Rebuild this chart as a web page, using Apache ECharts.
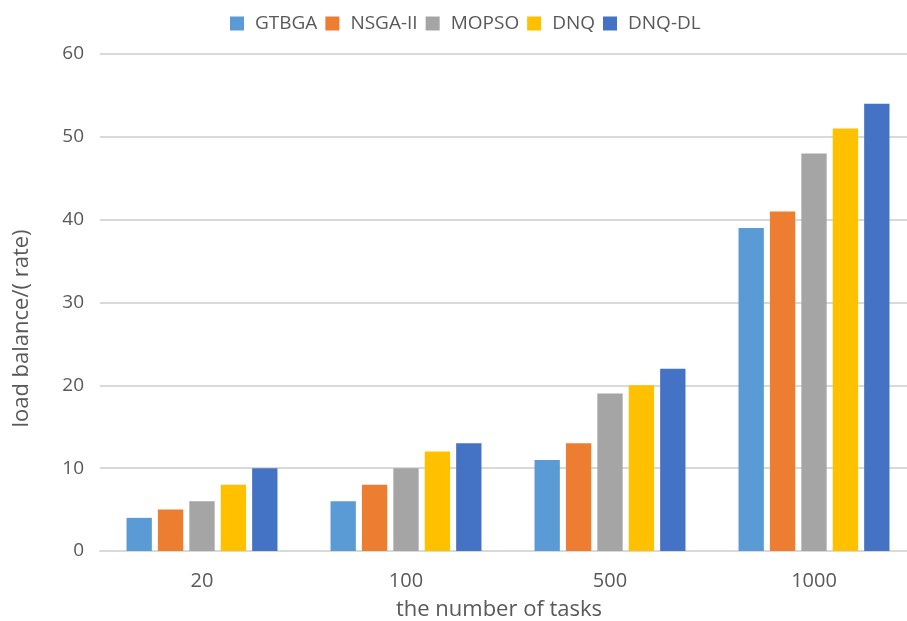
<!DOCTYPE html>
<html>
<head>
<meta charset="utf-8">
<script src="https://cdn.jsdelivr.net/npm/echarts@6/dist/echarts.min.js"></script>
<style>
  html, body { margin: 0; padding: 0; background: #fff; }
  #chart { width: 907px; height: 621px; }
</style>
</head>
<body>
<div id="chart"></div>
<script>
// Task counts on the x axis
var categories = ['20', '100', '500', '1000'];

// Load balance rate per algorithm
var gtbga  = [4, 6, 11, 39];
var nsga2  = [5, 8, 13, 41];
var mopso  = [6, 10, 19, 48];
var dnq    = [8, 12, 20, 51];
var dnqDl  = [10, 13, 22, 54];

var seriesNames = ['GTBGA', 'NSGA-II', 'MOPSO', 'DNQ', 'DNQ-DL'];
var seriesData = [gtbga, nsga2, mopso, dnq, dnqDl];
var colors = ['#5B9BD5', '#ED7D31', '#A5A5A5', '#FFC000', '#4472C4'];

var textColor = '#595959';
var font = 'Open Sans, Noto Sans, sans-serif';

var chart = echarts.init(document.getElementById('chart'), null, { renderer: 'canvas' });

chart.setOption({
  animation: false,
  backgroundColor: '#ffffff',
  color: colors,
  legend: {
    top: 9,
    left: 225,
    itemWidth: 14,
    itemHeight: 14,
    itemGap: 8,
    icon: 'rect',
    textStyle: { color: textColor, fontSize: 19, fontFamily: font, padding: [0, 0, 0, 6] }
  },
  grid: {
    left: 100,
    top: 54,
    width: 816,
    bottom: 70,
    containLabel: false,
    outerBoundsMode: 'none'
  },
  xAxis: {
    type: 'category',
    data: categories,
    name: 'the number of tasks',
    nameLocation: 'middle',
    nameGap: 48,
    nameTextStyle: { color: textColor, fontSize: 22, fontFamily: font, padding: [0, 18, 0, 0] },
    axisLine: { lineStyle: { color: '#d9d9d9', width: 2 } },
    axisTick: { show: false },
    axisLabel: { color: textColor, fontSize: 20, fontFamily: font, margin: 20 }
  },
  yAxis: {
    type: 'value',
    min: 0,
    max: 60,
    interval: 10,
    name: 'load balance/( rate)',
    nameLocation: 'middle',
    nameGap: 67,
    nameTextStyle: { color: textColor, fontSize: 22, fontFamily: font, padding: [0, 52, 0, 0] },
    axisLine: { show: false },
    axisTick: { show: false },
    axisLabel: { color: textColor, fontSize: 19, fontFamily: font, margin: 16 },
    splitLine: { lineStyle: { color: '#d9d9d9', width: 2 } }
  },
  series: seriesNames.map(function (name, i) {
    return {
      name: name,
      type: 'bar',
      data: seriesData[i],
      barGap: '24%',
      barCategoryGap: '26%',
      itemStyle: { color: colors[i] }
    };
  })
});
</script>
</body>
</html>
